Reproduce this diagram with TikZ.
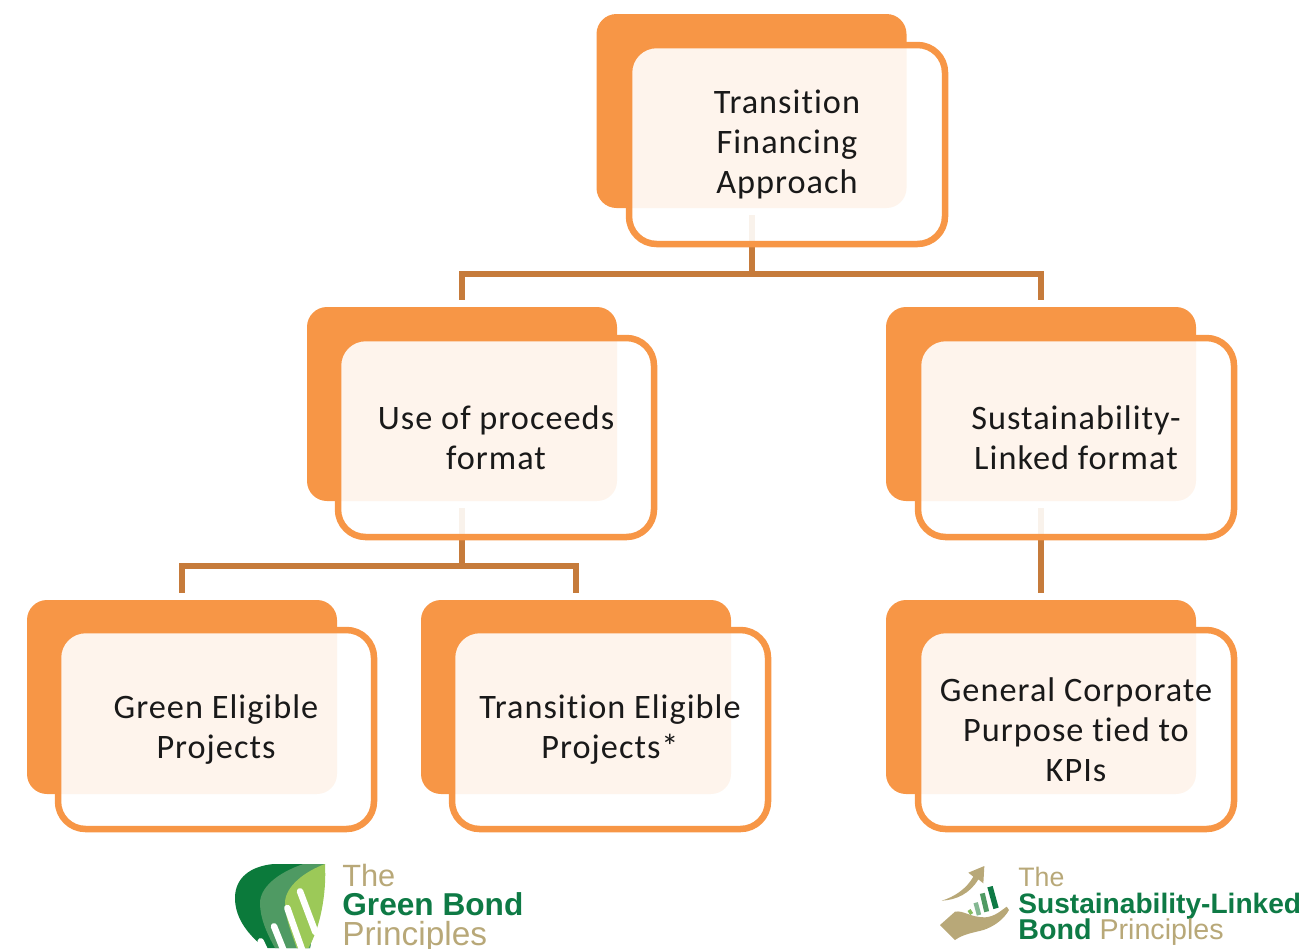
\documentclass[tikz,border=0pt]{standalone}
\usepackage{fontspec}
\setmainfont[LetterSpace=3,Ligatures=NoCommon]{Carlito}
\newfontfamily\logofont{Liberation Sans}
\pgfdeclarelayer{bg}
\pgfsetlayers{bg,main}
\definecolor{boxorange}{HTML}{F79646}
\definecolor{linkbrown}{HTML}{C67B3B}
\definecolor{logogold}{HTML}{B8A878}
\definecolor{logogreen}{HTML}{0E7A45}
\definecolor{leafdark}{HTML}{0B7A3B}
\definecolor{leafmid}{HTML}{4F9A63}
\definecolor{leaflight}{HTML}{9CC958}
\tikzset{
    backbox/.style={rectangle, fill=boxorange, rounded corners=.4cm, inner sep=0mm, minimum width=6.2cm, minimum height=3.88cm},
    frontbox/.style={rectangle, draw=boxorange, line width=.13cm, fill=white, fill opacity=.9, text opacity=1, rounded corners=.55cm, inner sep=0mm, minimum width=6.32cm, minimum height=3.98cm, align=center, text=black!90, font=\fontsize{19.5}{22.76}\selectfont},
    link/.style={draw=linkbrown, line width=.12cm, shorten <=.14cm, shorten >=.14cm},
    logotext/.style={anchor=base west, inner sep=0mm, font=\logofont}
}

\begin{document}
\begin{tikzpicture}
        \useasboundingbox (0cm, 0cm) rectangle (26.1cm, -18.96cm);
        \begin{pgfonlayer}{bg}
                \node (b0) [backbox] at (15.03cm, -2.22cm) {};
                \node (b1) [backbox] at (9.24cm, -8.08cm) {};
                \node (b2) [backbox] at (20.82cm, -8.08cm) {};
                \node (b3) [backbox] at (3.64cm, -13.94cm) {};
                \node (b4) [backbox] at (11.52cm, -13.94cm) {};
                \node (b5) [backbox] at (20.82cm, -13.94cm) {};
                \draw [link] (b0.south) -- ++(0, -1.32cm) -| (b1.north);
                \draw [link] (b0.south) -- ++(0, -1.32cm) -| (b2.north);
                \draw [link] (b1.south) -- ++(0, -1.30cm) -| (b3.north);
                \draw [link] (b1.south) -- ++(0, -1.30cm) -| (b4.north);
                \draw [link] (b2.south) -- (b5.north);
        \end{pgfonlayer}
        \node (f0) [frontbox] at (15.74cm, -2.89cm) {Transition\\Financing\\Approach};
        \node (f1) [frontbox] at (9.92cm, -8.75cm) {Use of proceeds\\format};
        \node (f2) [frontbox] at (21.52cm, -8.75cm) {Sustainability-\\Linked format};
        \node (f3) [frontbox] at (4.32cm, -14.59cm) {Green Eligible\\Projects};
        \node (f4) [frontbox] at (12.2cm, -14.59cm) {Transition Eligible\\Projects*};
        \node (f5) [frontbox] at (21.52cm, -14.59cm) {General Corporate\\Purpose tied to\\KPIs};

        \begin{scope}[shift={(4.6cm, -17.16cm)}, x=.00667cm, y=-.00667cm]
                \fill [leafdark] (285,18) -- (130,18) .. controls (60,25) and (15,60) .. (15,120) .. controls (15,185) and (60,235) .. (105,270) -- (240,270) -- cycle;
                \fill [leafmid] (285,18) -- (220,18) .. controls (140,45) and (90,90) .. (90,135) .. controls (90,180) and (110,225) .. (135,270) -- (240,270) -- cycle;
                \fill [leaflight] (285,18) .. controls (225,40) and (165,85) .. (165,135) .. controls (165,180) and (185,225) .. (200,270) -- (235,270) .. controls (270,210) and (290,110) .. (285,18) -- cycle;
                \draw [white, line width=.13cm, line cap=round] (210,100) -- (256,222);
                \draw [white, line width=.13cm, line cap=round] (172,150) -- (218,280);
                \draw [white, line width=.13cm, line cap=round] (132,205) -- (162,280);
                \draw [white, line width=.13cm, line cap=round] (92,250) -- (106,280);
        \end{scope}
        \node (t1) [logotext, text=logogold, font=\logofont\fontsize{17.5}{20}\selectfont] at (6.84cm, -17.73cm) {The};
        \node (t2) [logotext, text=logogreen, font=\logofont\bfseries\fontsize{18}{20}\selectfont] at (6.84cm, -18.3cm) {Green Bond};
        \node (t3) [logotext, text=logogold, font=\logofont\fontsize{19}{20}\selectfont] at (6.84cm, -18.9cm) {Principles};

        \begin{scope}[shift={(18.7cm, -17.2cm)}, x=.00667cm, y=-.00667cm]
                \fill [logogold] (20,122) .. controls (60,110) and (95,85) .. (115,50) -- (100,38) -- (148,18) -- (145,70) -- (130,58) .. controls (105,100) and (65,120) .. (20,122) -- cycle;
                \fill [logogold] (15,195) -- (60,155) .. controls (85,150) and (105,172) .. (150,172) .. controls (180,170) and (200,150) .. (215,140) -- (222,150) .. controls (205,180) and (175,200) .. (145,210) .. controls (115,218) and (85,222) .. (60,240) -- cycle;
                \draw [logogreen, line width=.11cm] (165,80) -- (183,145);
                \draw [leafmid, line width=.1cm] (142,100) -- (155,155);
                \draw [leafmid!70!white, line width=.09cm] (122,128) -- (132,165);
                \draw [leaflight!70!leafmid, line width=.07cm] (102,150) -- (110,162);
        \end{scope}
        \node (t4) [logotext, text=logogold, font=\logofont\fontsize{15.2}{18}\selectfont] at (20.36cm, -17.72cm) {The};
        \node (t5) [logotext, text=logogreen, font=\logofont\bfseries\fontsize{16}{18}\selectfont] at (20.36cm, -18.26cm) {Sustainability-Linked};
        \node (t6) [logotext, font=\logofont\fontsize{16.3}{18}\selectfont] at (20.36cm, -18.79cm) {\textcolor{logogreen}{\bfseries Bond} \textcolor{logogold}{Principles}};
\end{tikzpicture}
\end{document}
